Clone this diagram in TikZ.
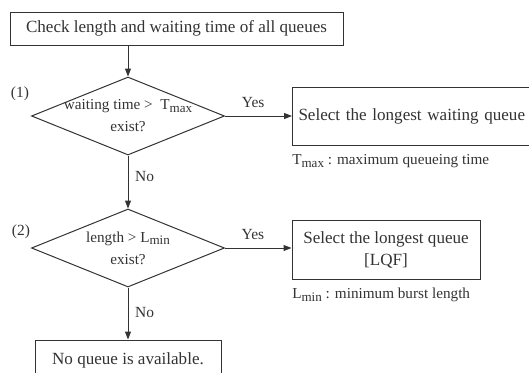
\documentclass[tikz,border=0pt]{standalone}
\usepackage{fontspec}
\setmainfont{Liberation Serif}
\usetikzlibrary{shapes.geometric,arrows.meta}

\definecolor{ink}{HTML}{333333}
\newcommand{\lowsub}[1]{\raisebox{-0.4ex}{\fontsize{9.8}{10}\selectfont #1}}
\tikzset{
    box/.style={draw=ink, text=ink, line width=0.75pt, inner sep=0pt, align=center,
        font=\fontsize{12.8}{16.5}\selectfont},
    decision/.style={diamond, draw=ink, line width=0.75pt, aspect=2.44,
        minimum width=144.75pt, minimum height=58.5pt, inner sep=0pt},
    dtext/.style={text=ink, inner sep=0pt, align=center,
        font=\fontsize{11.4}{16.5}\selectfont},
    flow/.style={draw=ink, line width=0.75pt, -{Triangle[length=6pt,width=4.5pt]}},
    lbl/.style={text=ink, inner sep=0pt, font=\fontsize{11.6}{14}\selectfont},
    note/.style={text=ink, inner sep=0pt, anchor=west, font=\fontsize{11.4}{14}\selectfont}
}

\begin{document}
\begin{tikzpicture}[x=0.75pt, y=-0.75pt]
    \useasboundingbox (0,0) rectangle (529,372);

    % boxes and decisions
    \node[box, minimum width=249.75pt, minimum height=24.75pt] (check) at (176.5,28.5)
        {Check length and waiting time of all queues};
    \node[decision] (d1) at (128,116) {};
    \node[dtext] (d1t) at (d1) {waiting time >~~T\lowsub{max}\\exist?};
    \node[box, anchor=west, inner xsep=4.5pt, text width=185pt, align=left,
        minimum height=43.5pt] (wait) at (292,116)
        {Select the longest waiting queue};
    \node[decision] (d2) at (128,248) {};
    \node[dtext] (d2t) at (d2) {length > L\lowsub{min}\\exist?};
    \node[box, minimum width=141pt, minimum height=44.25pt] (lqf) at (386,249.5)
        {Select the longest queue\\{[LQF]}};
    \node[box, minimum width=139.5pt, minimum height=30pt] (none) at (128,360)
        {No queue is available.};

    % step numbers and notes
    \node[lbl] (n1) at (20,94) {(1)};
    \node[lbl] (n2) at (21,232) {(2)};
    \node[note] (tmax) at (292,161) {T\lowsub{max} : maximum queueing time};
    \node[note] (lmin) at (292,295) {L\lowsub{min} : minimum burst length};

    % connectors
    \draw[flow] (check.south -| d1) -- (d1.north);
    \draw[flow] (d1.east) -- node[lbl, above=6pt, xshift=-4pt] {Yes} (wait.west |- d1.east);
    \draw[flow] (d1.south) -- node[lbl, right=5pt, pos=0.4] {No} (d2.north);
    \draw[flow] (d2.east) -- node[lbl, above=6pt, xshift=-4pt] {Yes} (lqf.west |- d2.east);
    \draw[flow] (d2.south) -- node[lbl, right=5pt, pos=0.48] {No} (none.north);
\end{tikzpicture}
\end{document}
